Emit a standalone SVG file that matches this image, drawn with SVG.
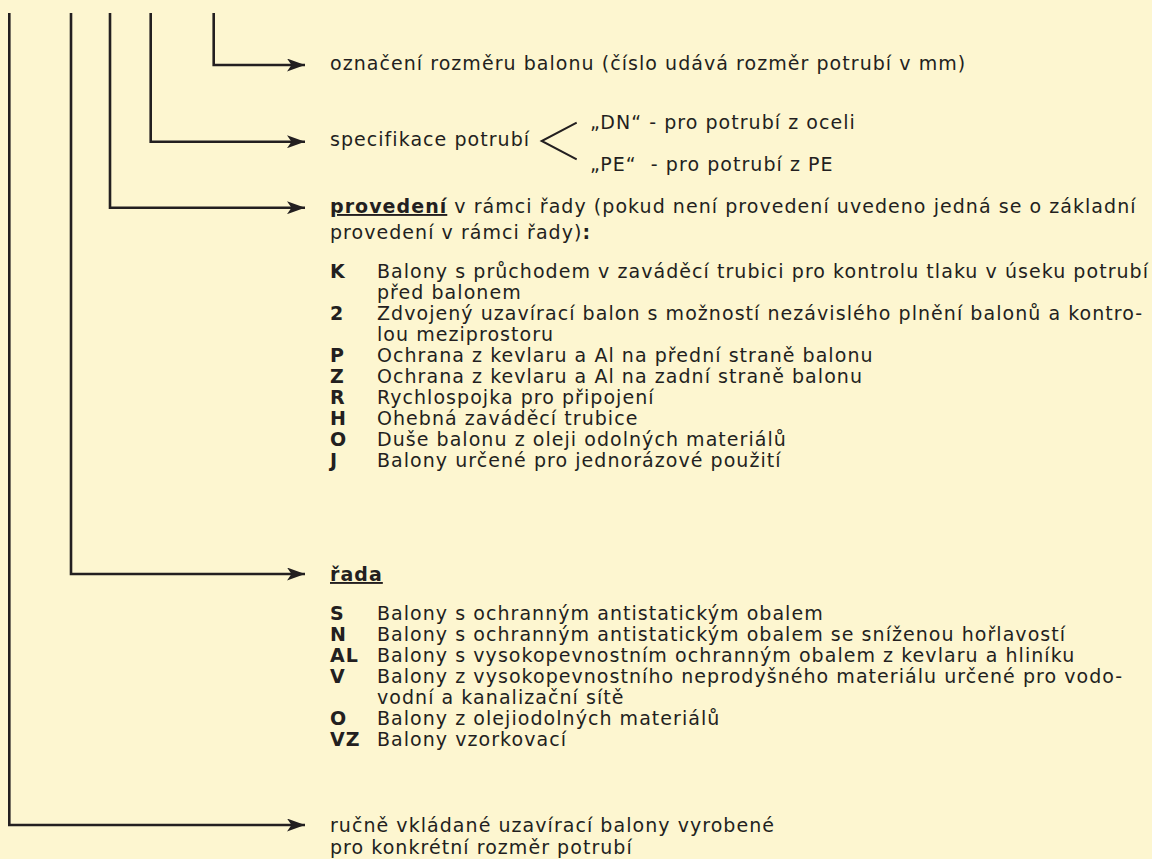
<svg xmlns="http://www.w3.org/2000/svg" width="1152" height="859" viewBox="0 0 1152 859">
<defs>
<style>
text{font-family:"DejaVu Sans","Verdana",sans-serif;font-size:19px;letter-spacing:1.05px;fill:#231f20}
.b{font-weight:bold}
.u{text-decoration:underline}
.ln{fill:none;stroke:#231f20;stroke-width:2.6}
.br{fill:none;stroke:#231f20;stroke-width:2}
</style>
<marker id="ah" viewBox="0 0 18 13" refX="18" refY="6.5" markerWidth="18" markerHeight="13" markerUnits="userSpaceOnUse" orient="auto">
<path d="M0,0 L18,6.5 L0,13 L4.5,6.5 Z" fill="#231f20"/>
</marker>
</defs>
<rect width="1152" height="859" fill="#fdf6d0"/>
<g id="connectors">
<path class="ln" d="M213.7,13 V65 H305" marker-end="url(#ah)"/>
<path class="ln" d="M150.7,13 V141.7 H305" marker-end="url(#ah)"/>
<path class="ln" d="M110,13 V207.7 H305" marker-end="url(#ah)"/>
<path class="ln" d="M71,13 V574 H305" marker-end="url(#ah)"/>
<path class="ln" d="M9.3,13 V825 H305" marker-end="url(#ah)"/>
</g>
<g id="rozmer">
<text x="330" y="70">označení rozměru balonu (číslo udává rozměr potrubí v mm)</text>
</g>
<g id="specifikace">
<text x="330" y="146">specifikace potrubí</text>
<polyline class="br" points="576.7,122.7 541.7,141 576.7,159.3"/>
<text x="590" y="129">„DN“ - pro potrubí z oceli</text>
<text x="590" y="171" xml:space="preserve">„PE“  - pro potrubí z PE</text>
</g>
<g id="provedeni">
<text x="330" y="213"><tspan class="b u">provedení</tspan> v rámci řady (pokud není provedení uvedeno jedná se o základní</text>
<text x="330" y="239">provedení v rámci řady)<tspan class="b">:</tspan></text>
<text class="b" x="330" y="278">K</text><text x="377" y="278">Balony s průchodem v zaváděcí trubici pro kontrolu tlaku v úseku potrubí</text>
<text x="377" y="299">před balonem</text>
<text class="b" x="330" y="320">2</text><text x="377" y="320">Zdvojený uzavírací balon s možností nezávislého plnění balonů a kontro-</text>
<text x="377" y="341">lou meziprostoru</text>
<text class="b" x="330" y="362">P</text><text x="377" y="362">Ochrana z kevlaru a Al na přední straně balonu</text>
<text class="b" x="330" y="383">Z</text><text x="377" y="383">Ochrana z kevlaru a Al na zadní straně balonu</text>
<text class="b" x="330" y="404">R</text><text x="377" y="404">Rychlospojka pro připojení</text>
<text class="b" x="330" y="425">H</text><text x="377" y="425">Ohebná zaváděcí trubice</text>
<text class="b" x="330" y="446">O</text><text x="377" y="446">Duše balonu z oleji odolných materiálů</text>
<text class="b" x="330" y="467">J</text><text x="377" y="467">Balony určené pro jednorázové použití</text>
</g>
<g id="rada">
<text class="b u" x="330" y="581">řada</text>
<text class="b" x="330" y="620">S</text><text x="377" y="620">Balony s ochranným antistatickým obalem</text>
<text class="b" x="330" y="641">N</text><text x="377" y="641">Balony s ochranným antistatickým obalem se sníženou hořlavostí</text>
<text class="b" x="330" y="662">AL</text><text x="377" y="662">Balony s vysokopevnostním ochranným obalem z kevlaru a hliníku</text>
<text class="b" x="330" y="683">V</text><text x="377" y="683">Balony z vysokopevnostního neprodyšného materiálu určené pro vodo-</text>
<text x="377" y="704">vodní a kanalizační sítě</text>
<text class="b" x="330" y="725">O</text><text x="377" y="725">Balony z olejiodolných materiálů</text>
<text class="b" x="330" y="746">VZ</text><text x="377" y="746">Balony vzorkovací</text>
</g>
<g id="rucne">
<text x="330" y="832">ručně vkládané uzavírací balony vyrobené</text>
<text x="330" y="854">pro konkrétní rozměr potrubí</text>
</g>
</svg>
